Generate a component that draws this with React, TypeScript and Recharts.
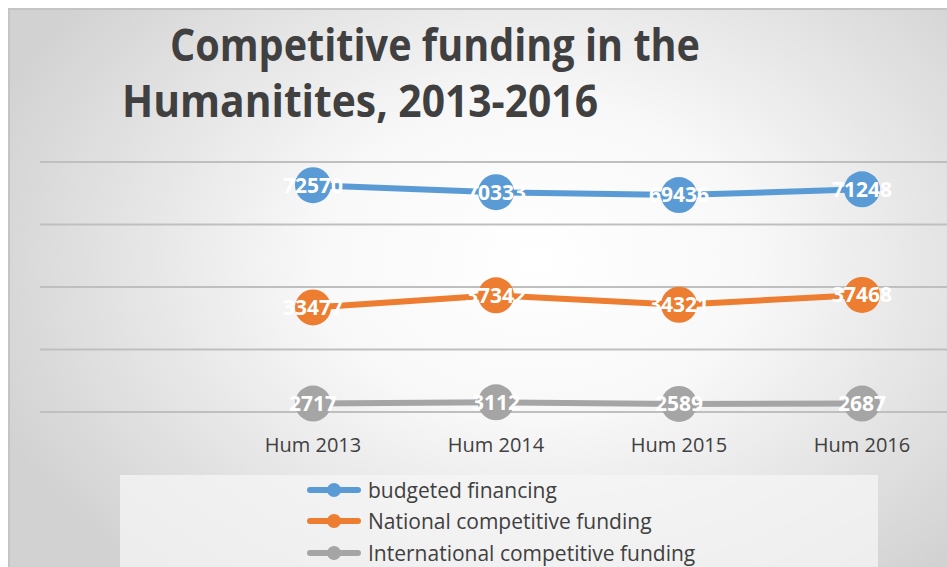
import { LineChart, Line, XAxis, YAxis, CartesianGrid, LabelList } from 'recharts';

const years = ['Hum 2013', 'Hum 2014', 'Hum 2015', 'Hum 2016'];
const budgeted = [72570, 70333, 69436, 71248];
const national = [33477, 37342, 34321, 37468];
const international = [2717, 3112, 2589, 2687];
const yTicks = [0, 20000, 40000, 60000, 80000];

const series = [
  { key: 'budgeted', name: 'budgeted financing', color: '#5b9bd5' },
  { key: 'national', name: 'National competitive funding', color: '#ed7d31' },
  { key: 'international', name: 'International competitive funding', color: '#a5a5a5' },
];

const data = years.map((year, i) => ({
  year,
  budgeted: budgeted[i],
  national: national[i],
  international: international[i],
}));

const FONT = '"Open Sans", "Noto Sans", sans-serif';

function Dot(props: any) {
  const { cx, cy, stroke } = props;
  if (cx == null || cy == null) return null;
  return <circle cx={cx} cy={cy} r={18} fill={stroke} stroke="none" />;
}

export default function App() {
  return (
    <div style={{ position: 'fixed', left: 0, top: 0, width: 947, height: 567, background: '#fff', overflow: 'hidden' }}>
      <div
        style={{
          position: 'absolute',
          left: 8,
          top: 8,
          right: 0,
          bottom: 0,
          borderTop: '2px solid #c4c4c4',
          borderLeft: '2px solid #c4c4c4',
          background: 'radial-gradient(ellipse 62% 75% at 56% 45%, #ffffff 0%, #f8f8f8 38%, #d2d2d2 100%)',
        }}
      />
      <div
        style={{
          position: 'absolute',
          left: 120,
          top: 475,
          width: 758,
          height: 92,
          background: 'rgba(245,245,245,0.75)',
        }}
      />
      <svg width={947} height={140} style={{ position: 'absolute', left: 0, top: 0 }}>
        <text x={170} y={61} textLength={530} lengthAdjust="spacingAndGlyphs" fontFamily={FONT} fontWeight={700} fontSize={44} fill="#404040">
          Competitive funding in the
        </text>
        <text x={122} y={117} textLength={476} lengthAdjust="spacingAndGlyphs" fontFamily={FONT} fontWeight={700} fontSize={44} fill="#404040">
          Humanitites, 2013-2016
        </text>
      </svg>
      <LineChart
        width={947}
        height={567}
        data={data}
        margin={{ top: 162, right: 0, bottom: 125, left: 40 }}
        style={{ position: 'absolute', left: 0, top: 0 }}
      >
        <CartesianGrid vertical={false} stroke="#bfbfbf" strokeWidth={2} />
        <XAxis
          dataKey="year"
          height={30}
          padding={{ left: 273, right: 85 }}
          axisLine={{ stroke: '#bfbfbf', strokeWidth: 2 }}
          tickLine={false}
          tickMargin={20}
          tick={{ fill: '#404040', fontSize: 20, fontFamily: FONT }}
        />
        <YAxis hide domain={[0, 80000]} ticks={yTicks} />
        {series.map((s) => (
          <Line
            key={s.key}
            dataKey={s.key}
            name={s.name}
            stroke={s.color}
            strokeWidth={6}
            dot={<Dot />}
            activeDot={false}
            isAnimationActive={false}
          >
            <LabelList
              dataKey={s.key}
              position="center"
              fill="#ffffff"
              fontSize={21}
              fontWeight={700}
              fontFamily={FONT}
            />
          </Line>
        ))}
      </LineChart>
      <div style={{ position: 'absolute', left: 306, top: 474, fontFamily: FONT, fontSize: 21, color: '#404040' }}>
        {series.map((s) => (
          <div key={s.key} style={{ display: 'flex', alignItems: 'center', height: 31.5 }}>
            <svg width={56} height={20}>
              <line x1={4} y1={10} x2={52} y2={10} stroke={s.color} strokeWidth={6} strokeLinecap="round" />
              <circle cx={28} cy={10} r={7} fill={s.color} />
            </svg>
            <span style={{ marginLeft: 6 }}>{s.name}</span>
          </div>
        ))}
      </div>
    </div>
  );
}
